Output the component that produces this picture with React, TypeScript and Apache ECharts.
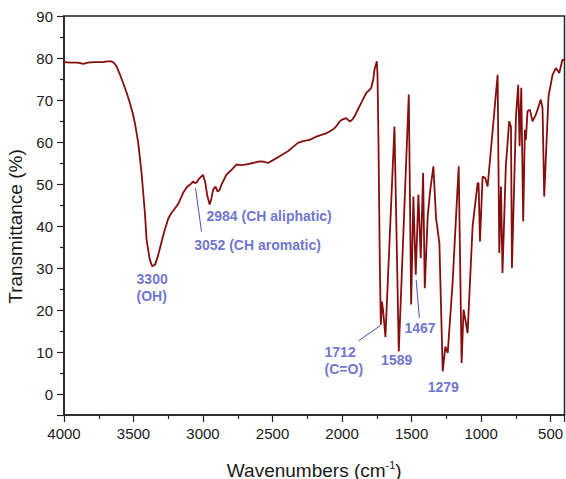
import React, { useEffect, useRef } from "react";
import * as echarts from "echarts";

// Wavenumbers (cm-1), high to low
const wavenumbers = [
  4000, 3950, 3900, 3860, 3830, 3780, 3720, 3690, 3660, 3640, 3622, 3600, 3574, 3550, 3526, 3505,
  3490, 3466, 3442, 3418, 3406, 3383, 3365, 3345, 3323, 3300, 3275, 3250, 3227, 3200, 3179, 3143,
  3115, 3095, 3070, 3059, 3045, 3030, 3000, 2985, 2968, 2952, 2940, 2928, 2910, 2895, 2880, 2868,
  2832, 2800, 2760, 2720, 2688, 2640, 2593, 2560, 2533, 2490, 2449, 2420, 2389, 2350, 2317, 2280,
  2233, 2190, 2149, 2120, 2090, 2060, 2042, 2018, 1995, 1970, 1955, 1941, 1925, 1910, 1885, 1862,
  1826, 1800, 1790, 1775, 1767, 1750, 1745, 1738, 1728, 1721, 1713, 1705, 1688, 1623, 1592, 1520,
  1503, 1487, 1470, 1451, 1434, 1417, 1405, 1384, 1367, 1343, 1324, 1300, 1276, 1257, 1240, 1205,
  1180, 1161, 1140, 1126, 1109, 1097, 1061, 1025, 1018, 1008, 989, 970, 953, 881, 869, 857,
  846, 822, 798, 785, 778, 749, 733, 723, 711, 697, 685, 678, 666, 649, 630, 606,
  570, 558, 546, 529, 515, 486, 462, 438, 415, 402,
];

// Transmittance (%)
const transmittance = [
  79.0, 78.9, 78.9, 78.6, 78.9, 79.0, 79.0, 79.2, 79.2, 78.8, 78.0, 76.3, 74.0, 71.8, 69.3, 66.8,
  64.5, 59.8, 52.6, 43.1, 36.7, 32.0, 30.4, 30.8, 33.0, 36.0, 39.1, 41.8, 43.1, 44.3, 45.2, 47.9,
  49.3, 49.8, 50.6, 50.2, 50.4, 51.2, 52.2, 50.5, 47.0, 45.1, 46.5, 48.6, 49.4, 48.2, 48.6, 49.8,
  52.2, 53.2, 54.6, 54.5, 54.7, 55.0, 55.4, 55.3, 55.0, 55.8, 56.6, 57.2, 57.8, 58.9, 59.8, 60.2,
  60.5, 61.2, 61.7, 62.0, 62.5, 63.1, 63.7, 64.9, 65.4, 65.7, 65.2, 64.9, 65.4, 66.1, 67.8, 69.3,
  71.7, 72.5, 72.9, 75.0, 77.2, 79.2, 76.0, 60.0, 30.0, 16.5, 22.0, 20.0, 13.6, 63.7, 10.1, 71.3,
  21.3, 47.0, 28.4, 47.5, 32.4, 52.6, 25.2, 42.3, 48.2, 54.2, 41.9, 36.0, 5.4, 11.3, 9.8, 26.4,
  42.3, 54.2, 7.4, 20.1, 16.9, 14.5, 39.9, 50.2, 50.2, 36.3, 51.8, 51.4, 49.4, 76.0, 33.6, 49.4,
  28.8, 54.2, 64.9, 63.7, 30.0, 66.1, 73.6, 59.0, 72.9, 41.1, 62.9, 60.5, 67.3, 67.7, 64.9, 66.5,
  70.1, 68.1, 47.0, 60.1, 70.9, 76.0, 77.6, 76.4, 79.6, 79.5,
];

// Peak annotations: text, anchor (left edge, vertical middle) in data units
const annotationTexts = [
  "2984 (CH aliphatic)",
  "3052 (CH aromatic)",
  "3300\n(OH)",
  "1712\n(C=O)",
  "1589",
  "1467",
  "1279",
];
const annotationX = [2975, 3064, 3478, 2126, 1719, 1551, 1384];
const annotationY = [42.4, 35.4, 25.4, 8.0, 8.05, 15.8, 1.7];

// Leader lines: [x1, y1, x2, y2] in data units
const leaderLines = [
  [3054, 49.0, 3011, 38.7],
  [1879, 12.7, 1724, 16.3],
  [1444, 18.1, 1467, 27.2],
];

const xTicksStep = 500;
const yTicksStep = 10;

const LINE_COLOR = "#850f0f";
const BLUE = "#4850c4";
const FONT = "Liberation Sans";

export default function App() {
  const ref = useRef<HTMLDivElement>(null);

  useEffect(() => {
    document.body.style.margin = "0";
    if (!ref.current) return;
    const chart = echarts.init(ref.current, null, { renderer: "svg" });

    const spectrum = wavenumbers.map((w, i) => [w, transmittance[i]]);
    const annotations = annotationTexts.map((t, i) => ({
      name: t,
      value: [annotationX[i], annotationY[i]],
    }));

    chart.setOption({
      animation: false,
      backgroundColor: "#ffffff",
      grid: {
        left: 64,
        right: 1.5,
        top: 16,
        bottom: 64,
        containLabel: false,
        outerBoundsMode: "none",
        show: true,
        borderColor: "#222",
        borderWidth: 1.5,
        backgroundColor: "transparent",
      },
      xAxis: {
        type: "value",
        inverse: true,
        min: 400,
        max: 4000,
        minInterval: xTicksStep,
        maxInterval: xTicksStep,
        splitNumber: 8,
        name: "Wavenumbers (cm{sup|-1})",
        nameLocation: "middle",
        nameGap: 44,
        nameTextStyle: {
          fontFamily: FONT,
          fontSize: 19,
          color: "#1a1a1a",
          lineHeight: 22,
          rich: {
            sup: { fontFamily: FONT, fontSize: 11, color: "#1a1a1a", verticalAlign: "top", lineHeight: 12 },
          },
        },
        axisLine: { show: true, onZero: false, lineStyle: { color: "#222", width: 1.5 } },
        axisTick: { show: true, length: 7, lineStyle: { color: "#222", width: 1.2 } },
        minorTick: { show: true, splitNumber: 2, length: 4, lineStyle: { color: "#222", width: 1.2 } },
        splitLine: { show: false },
        axisLabel: {
          fontFamily: FONT,
          fontSize: 15,
          color: "#1a1a1a",
          margin: 11,
          formatter: (v: number) => (v % xTicksStep === 0 ? String(v) : ""),
        },
      },
      yAxis: {
        type: "value",
        min: -5,
        max: 90,
        minInterval: yTicksStep,
        maxInterval: yTicksStep,
        splitNumber: 10,
        name: "Transmittance (%)",
        nameLocation: "middle",
        nameRotate: 90,
        nameGap: 38,
        nameTextStyle: {
          fontFamily: FONT,
          fontSize: 19,
          color: "#1a1a1a",
          padding: [0, 22, 0, 0],
        },
        axisLine: { show: true, onZero: false, lineStyle: { color: "#222", width: 1.5 } },
        axisTick: { show: true, length: 7, lineStyle: { color: "#222", width: 1.2 } },
        minorTick: { show: true, splitNumber: 2, length: 4, lineStyle: { color: "#222", width: 1.2 } },
        splitLine: { show: false },
        axisLabel: {
          fontFamily: FONT,
          fontSize: 15,
          color: "#1a1a1a",
          margin: 11,
          formatter: (v: number) => (v % yTicksStep === 0 ? String(v) : ""),
        },
      },
      series: [
        {
          type: "line",
          name: "spectrum",
          data: spectrum,
          showSymbol: false,
          symbol: "none",
          smooth: false,
          lineStyle: { color: LINE_COLOR, width: 1.8 },
          z: 3,
          markLine: {
            silent: true,
            symbol: "none",
            label: { show: false },
            lineStyle: { color: BLUE, width: 1, type: "solid" },
            data: leaderLines.map((l) => [{ coord: [l[0], l[1]] }, { coord: [l[2], l[3]] }]),
          },
        },
        {
          type: "scatter",
          name: "annotations",
          data: annotations,
          symbolSize: 0,
          silent: true,
          z: 4,
          label: {
            show: true,
            position: [0, 0],
            align: "left",
            verticalAlign: "middle",
            formatter: "{b}",
            fontFamily: FONT,
            fontSize: 14,
            fontWeight: "bold",
            color: BLUE,
            lineHeight: 17,
          },
        },
      ],
    });

    return () => chart.dispose();
  }, []);

  return <div ref={ref} style={{ width: 566, height: 479 }} />;
}
